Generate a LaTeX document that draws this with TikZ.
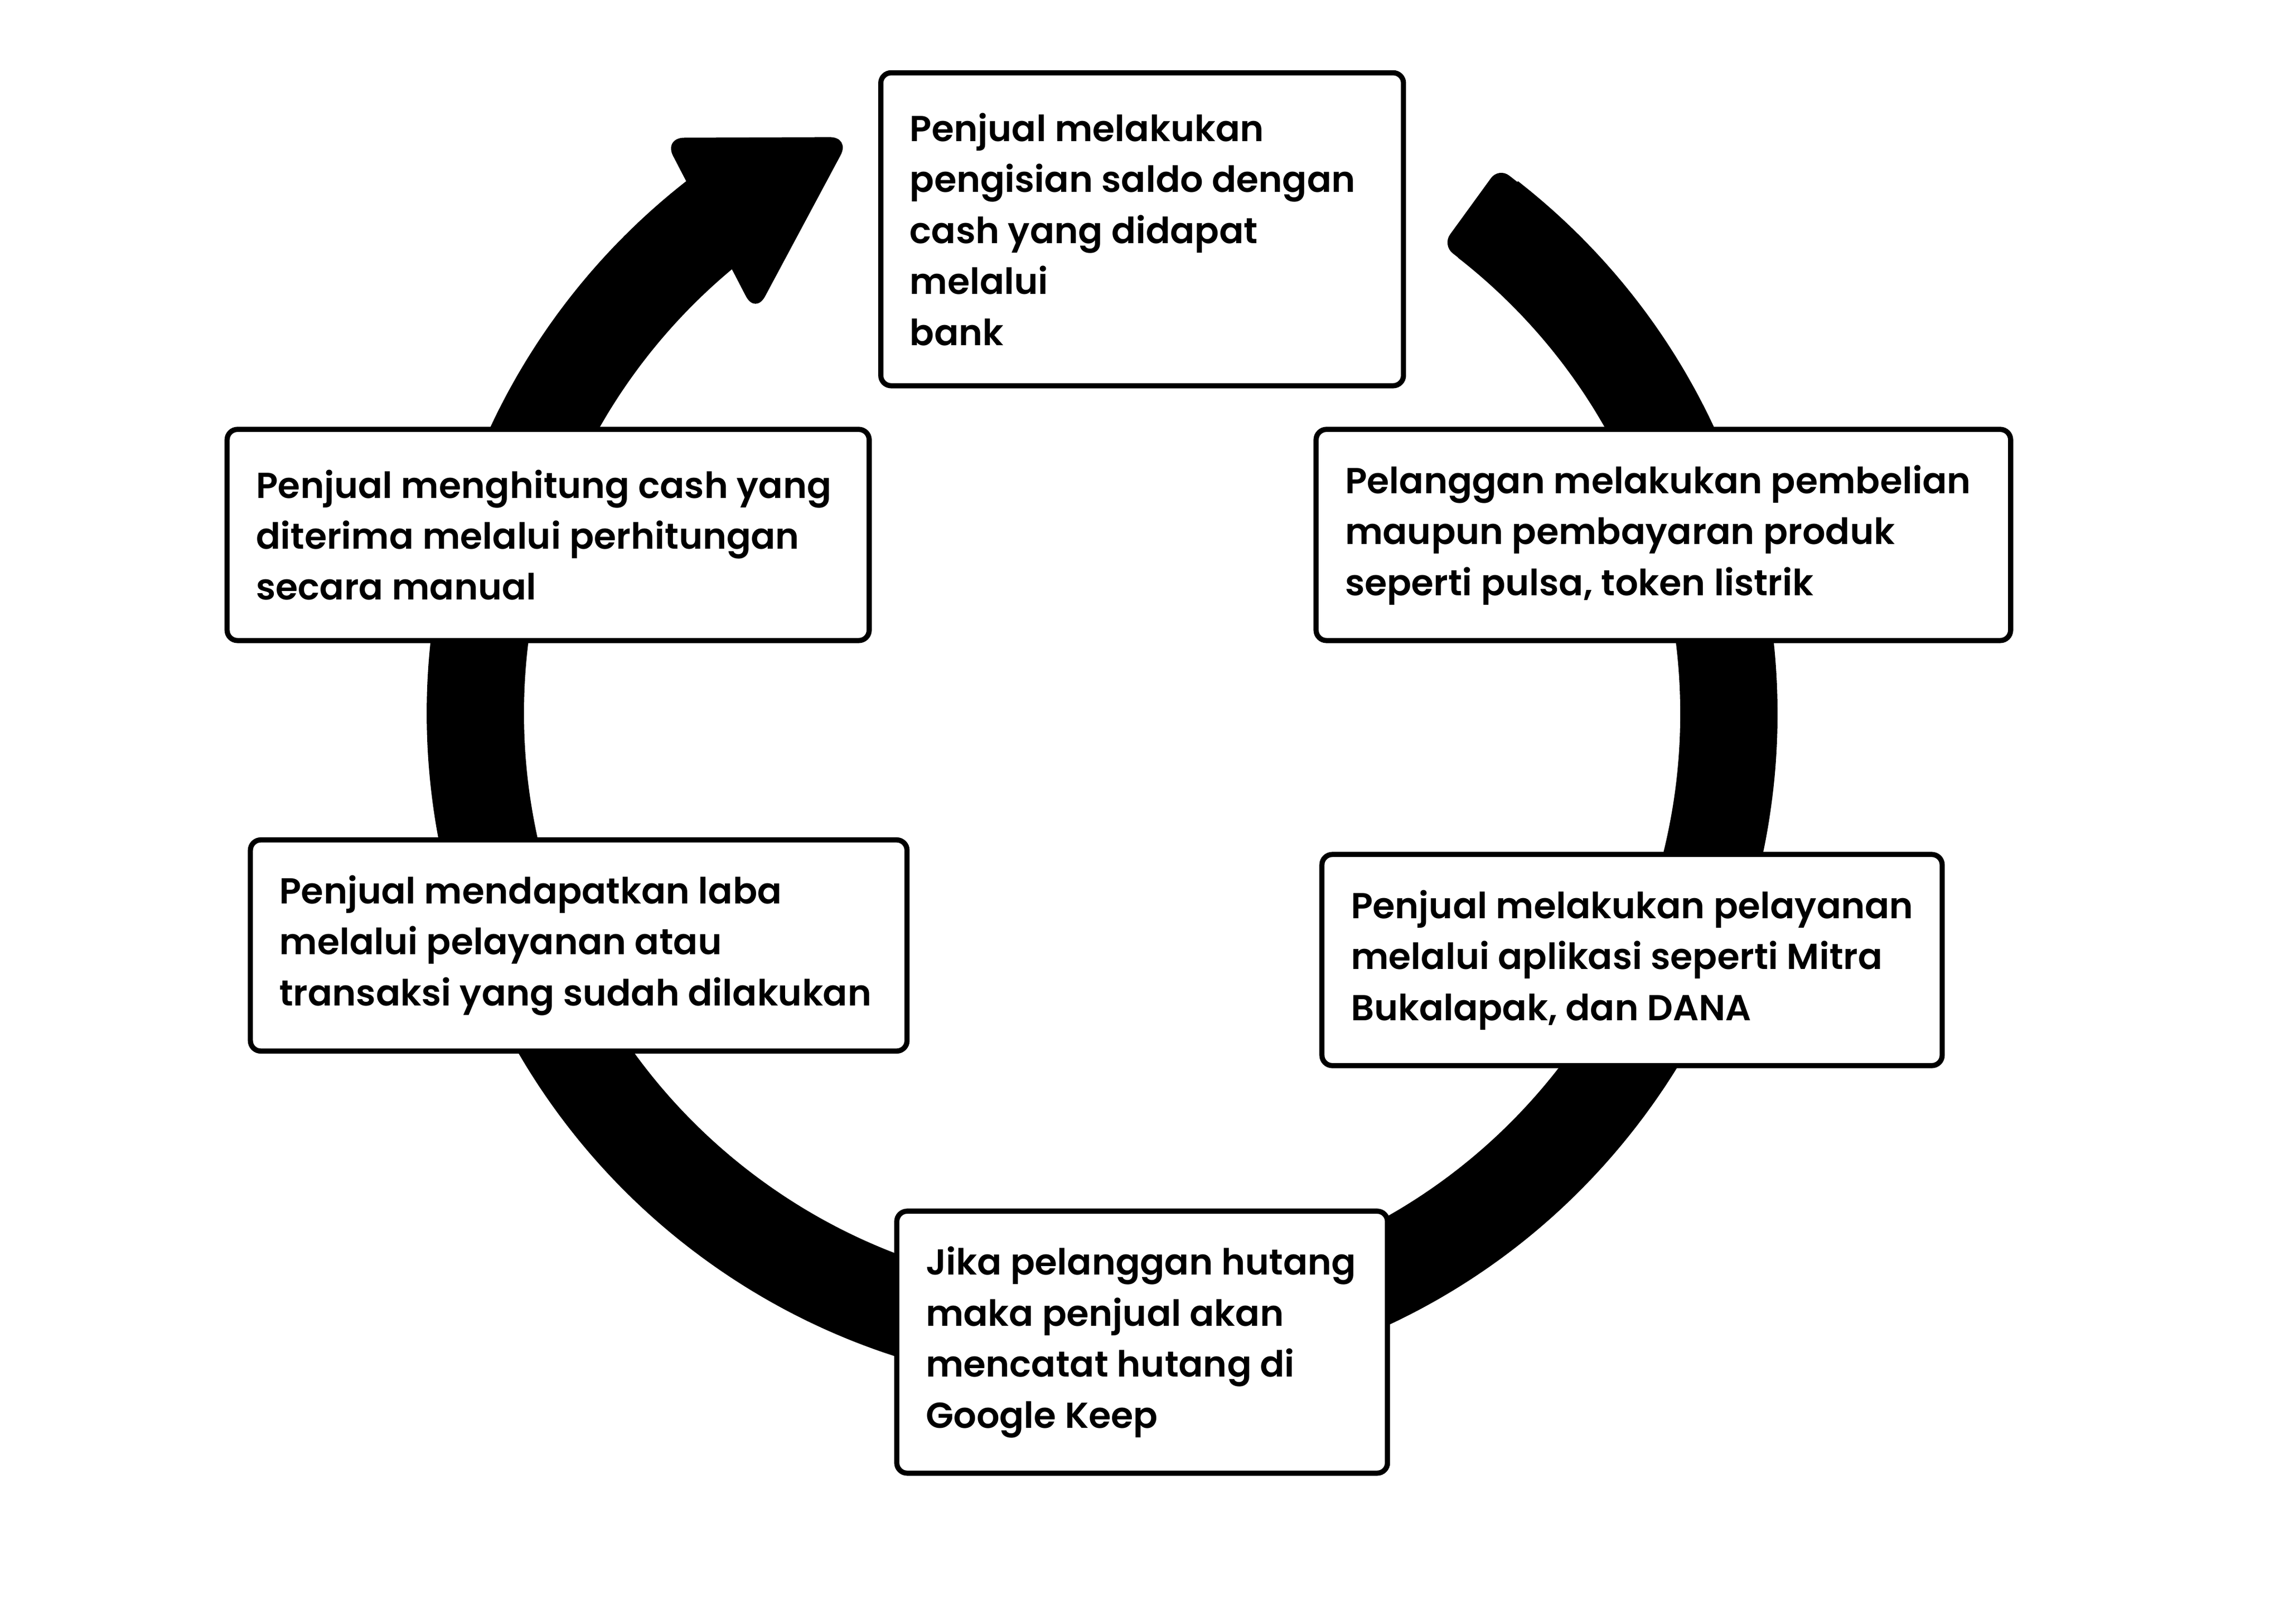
\documentclass[tikz,border=0pt]{standalone}
\usepackage{fontspec}
\setmainfont{Poppins}[UprightFont={* SemiBold}]
\begin{document}
\begin{tikzpicture}[x=1bp,y=1bp,
  box/.style={draw=black, line width=3.5bp, rounded corners=7bp, fill=white, inner sep=0pt},
  txt/.style={anchor=west, align=left, inner sep=0pt, text=black, font=\fontsize{24.5bp}{34.6bp}\selectfont},
  band/.style={line width=66bp, draw=black}]
\useasboundingbox (0,0) rectangle (1550,1102);
\fill[white] (0,0) rectangle (1550,1102);
\begin{scope}[shift={(0,1102)}, scale=0.988, shift={(0,-1102)}]
\begin{scope}[shift={(757,612)}]
  \draw[band] (52:430.5) arc[start angle=52, end angle=-233, radius=430.5];
  \fill[black, rounded corners=9bp] (50:463.5) -- (54:463.5) -- (54:397.5) -- (50:397.5) -- cycle;
  \fill[black, rounded corners=14bp] (127.3:497) -- (113.6:432) -- (131:363) -- cycle;
\end{scope}
\node[box, minimum width=354.7bp, minimum height=212.4bp] (b1) at (784.5,944.5) {};
\node[txt] (t1) at ([xshift=21.5bp]b1.west) {Penjual melakukan\\pengisian saldo dengan\\cash yang didapat\\melalui\\bank};
\node[box, minimum width=471.3bp, minimum height=143.3bp] (b2) at (1142.5,734.5) {};
\node[txt] (t2) at ([xshift=21.5bp]b2.west) {Pelanggan melakukan pembelian\\maupun pembayaran produk\\seperti pulsa, token listrik};
\node[box, minimum width=420.9bp, minimum height=143.3bp] (b3) at (1121,442.5) {};
\node[txt] (t3) at ([xshift=21.5bp]b3.west) {Penjual melakukan pelayanan\\melalui aplikasi seperti Mitra\\Bukalapak, dan DANA};
\node[box, minimum width=333bp, minimum height=177.8bp] (b4) at (784.5,180) {};
\node[txt] (t4) at ([xshift=21.5bp]b4.west) {Jika pelanggan hutang\\maka penjual akan\\mencatat hutang di\\Google Keep};
\node[box, minimum width=445.6bp, minimum height=143.3bp] (b5) at (397.5,452.5) {};
\node[txt] (t5) at ([xshift=21.5bp]b5.west) {Penjual mendapatkan laba\\melalui pelayanan atau\\transaksi yang sudah dilakukan};
\node[box, minimum width=435.7bp, minimum height=143.3bp] (b6) at (376.5,734.5) {};
\node[txt] (t6) at ([xshift=21.5bp]b6.west) {Penjual menghitung cash yang\\diterima melalui perhitungan\\secara manual};
\end{scope}
\end{tikzpicture}
\end{document}
